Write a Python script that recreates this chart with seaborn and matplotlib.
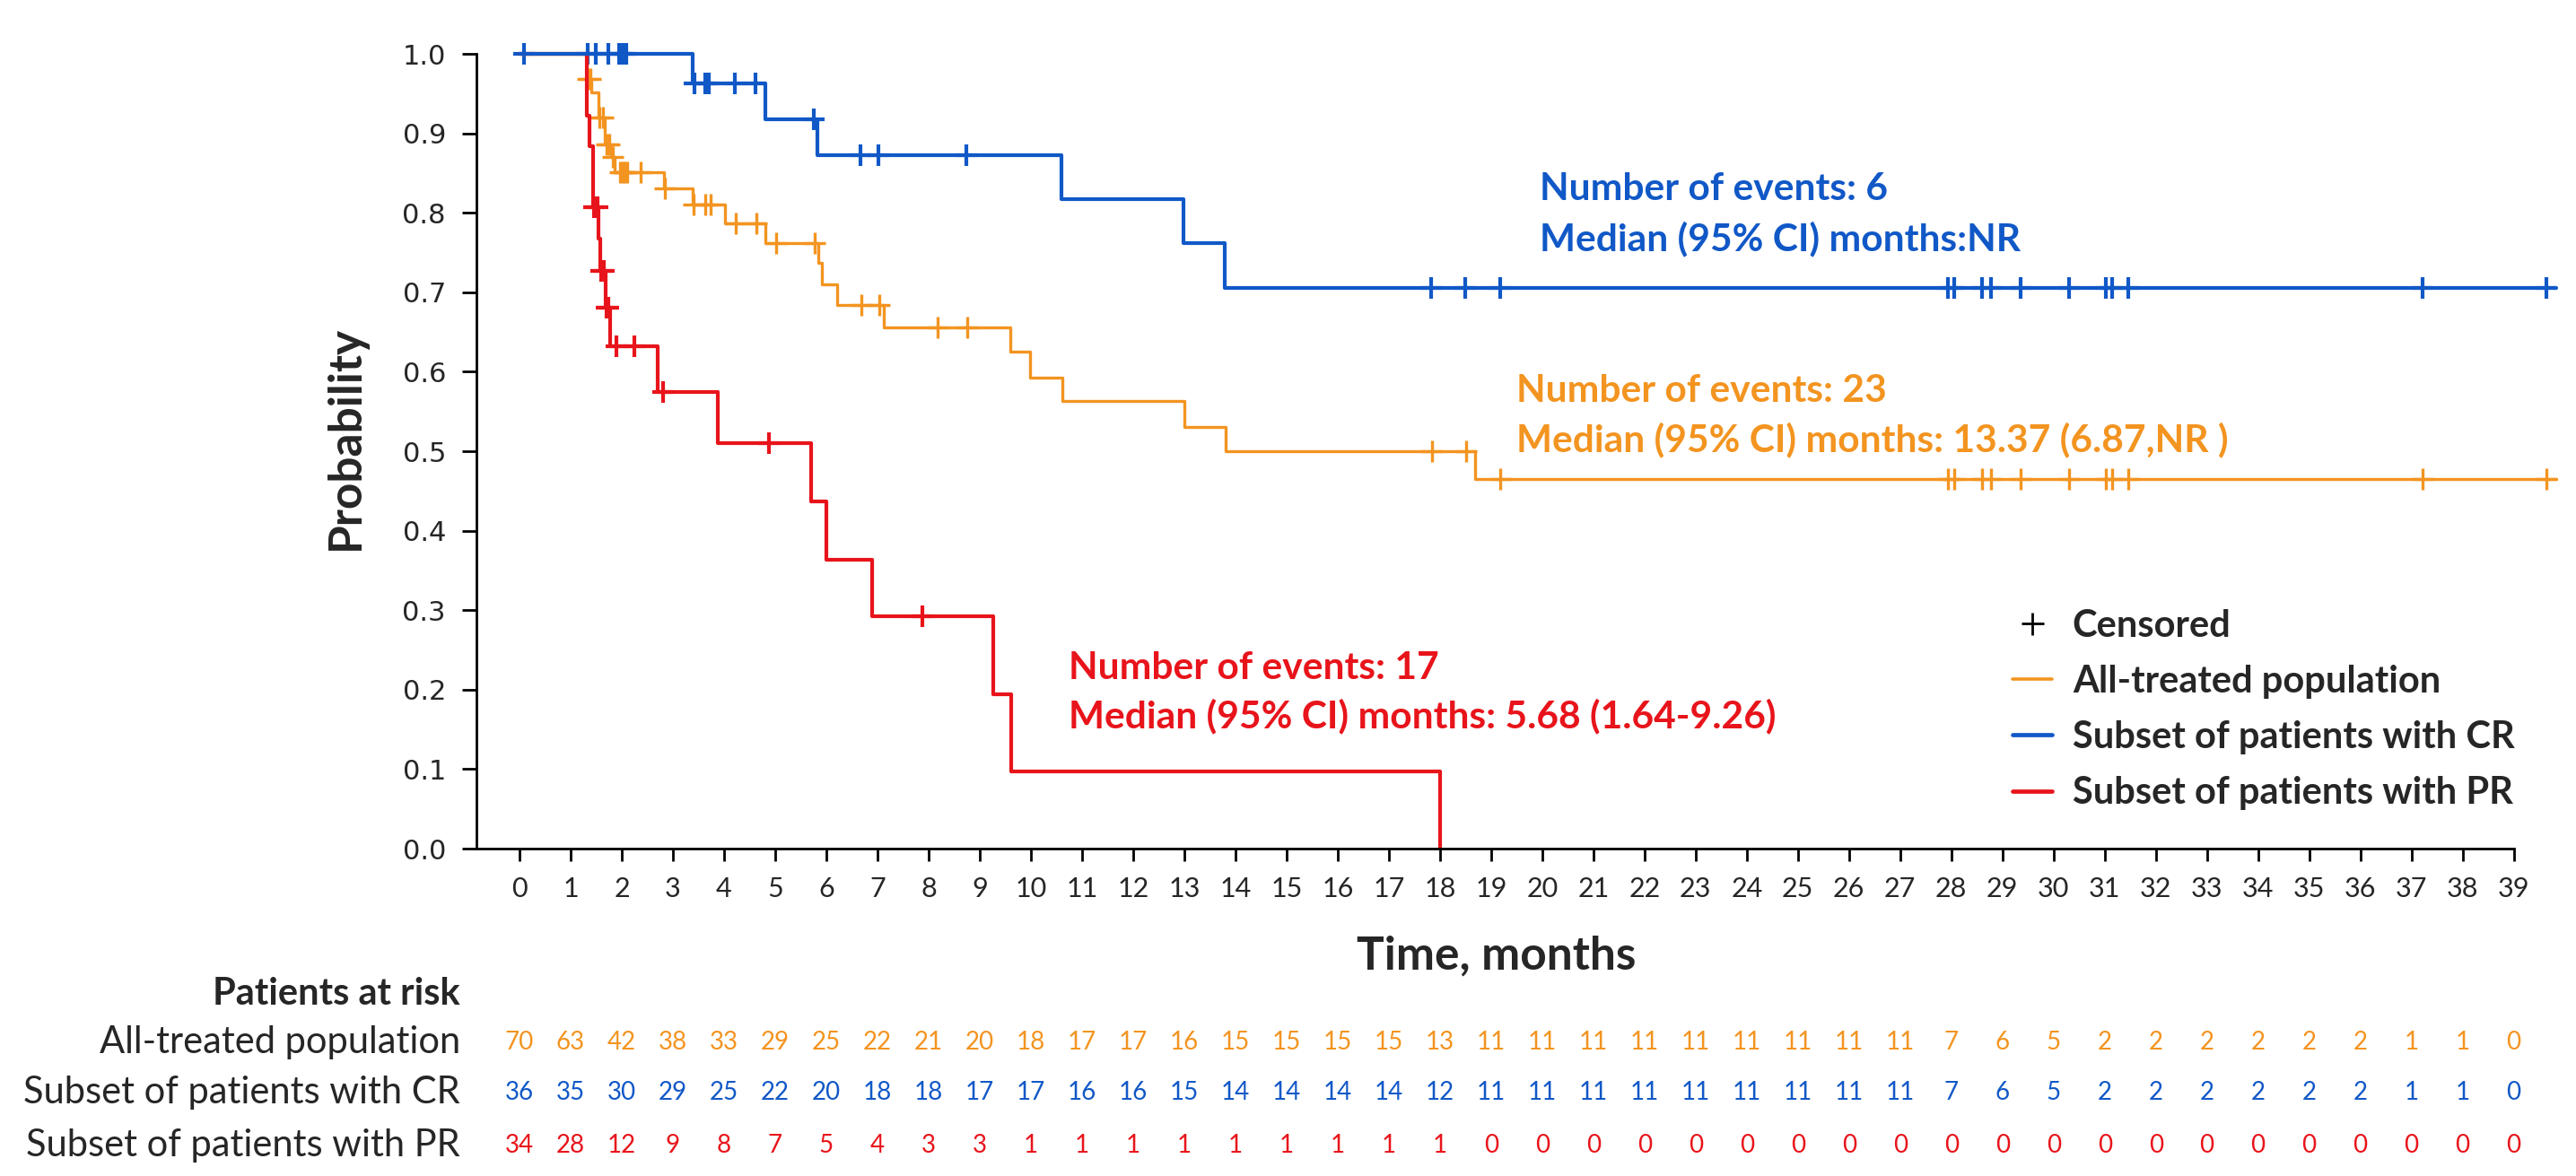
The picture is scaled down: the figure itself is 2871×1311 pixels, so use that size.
import numpy as np
import seaborn as sns
import matplotlib.pyplot as plt
from matplotlib.lines import Line2D
from matplotlib import transforms

# ---- data ----
months = list(range(0, 40))

groups = ["All-treated population", "Subset of patients with CR", "Subset of patients with PR"]

all_event_t = [1.32, 1.41, 1.54, 1.66, 1.79, 1.86, 2.82, 3.38, 4.02, 4.81, 5.84, 5.91,
               6.22, 7.12, 9.60, 9.98, 10.62, 13.01, 13.81, 18.68]
all_surv = [0.969, 0.952, 0.920, 0.886, 0.870, 0.851, 0.831, 0.810, 0.787, 0.762, 0.737, 0.710,
            0.684, 0.656, 0.625, 0.593, 0.563, 0.531, 0.500, 0.465]
all_censor = [1.34, 1.38, 1.57, 1.63, 1.70, 1.76, 1.83, 1.97, 2.01, 2.06, 2.11, 2.36, 2.85,
              3.41, 3.64, 3.73, 4.22, 4.63, 5.02, 5.78, 6.68, 7.03, 8.17, 8.75, 17.84, 18.51,
              19.18, 27.94, 28.06, 28.60, 28.77, 29.35, 30.31, 31.03, 31.14, 31.47, 37.22, 39.64]
all_end = 39.84

cr_event_t = [3.38, 4.81, 5.82, 10.60, 12.99, 13.80]
cr_surv = [0.963, 0.918, 0.872, 0.817, 0.762, 0.706]
cr_censor = [0.08, 1.33, 1.50, 1.73, 1.95, 2.02, 2.09, 3.42, 3.63, 3.71, 4.21, 4.61, 5.76,
             6.67, 7.01, 8.73, 17.82, 18.49, 19.17, 27.94, 28.06, 28.60, 28.77, 29.35, 30.31,
             31.03, 31.14, 31.47, 37.22, 39.64]
cr_end = 39.84

pr_event_t = [1.32, 1.36, 1.44, 1.55, 1.58, 1.68, 1.77, 2.71, 3.88, 5.70, 6.00, 6.89, 9.26,
              9.62, 18.0]
pr_surv = [0.922, 0.884, 0.807, 0.768, 0.727, 0.681, 0.632, 0.574, 0.510, 0.437, 0.364, 0.292,
           0.194, 0.097, 0.0]
pr_censor = [1.46, 1.52, 1.60, 1.65, 1.71, 1.74, 1.89, 2.24, 2.80, 4.87, 7.88]
pr_end = 18.0

risk_all = [70, 63, 42, 38, 33, 29, 25, 22, 21, 20, 18, 17, 17, 16, 15, 15, 15, 15, 13, 11,
            11, 11, 11, 11, 11, 11, 11, 11, 7, 6, 5, 2, 2, 2, 2, 2, 2, 1, 1, 0]
risk_cr = [36, 35, 30, 29, 25, 22, 20, 18, 18, 17, 17, 16, 16, 15, 14, 14, 14, 14, 12, 11,
           11, 11, 11, 11, 11, 11, 11, 11, 7, 6, 5, 2, 2, 2, 2, 2, 2, 1, 1, 0]
risk_pr = [34, 28, 12, 9, 8, 7, 5, 4, 3, 3, 1, 1, 1, 1, 1, 1, 1, 1, 1, 0,
           0, 0, 0, 0, 0, 0, 0, 0, 0, 0, 0, 0, 0, 0, 0, 0, 0, 0, 0, 0]

notes = {
    "all": ["Number of events: 23", "Median (95% CI) months: 13.37 (6.87,NR )"],
    "cr": ["Number of events: 6", "Median (95% CI) months:NR"],
    "pr": ["Number of events: 17", "Median (95% CI) months: 5.68 (1.64-9.26)"],
}

ORANGE = "#F39420"
BLUE = "#1158C7"
RED = "#E8141B"

sns.set_theme(style="white")
plt.rcParams["font.family"] = ["Lato", "DejaVu Sans"]

fig = plt.figure(figsize=(14.355, 6.555), dpi=200)
ax = fig.add_axes([0.1850, 0.2784, 0.8087, 0.6758])


def step_xy(ev_t, surv, end):
    xs = [0.0] + list(ev_t)
    ys = [1.0] + list(surv)
    if end > xs[-1]:
        xs.append(end)
        ys.append(ys[-1])
    return np.array(xs), np.array(ys)


def surv_at(ev_t, surv, t):
    idx = np.searchsorted(np.array(ev_t), t, side="right")
    vals = np.concatenate([[1.0], surv])
    return vals[idx]


curves = [
    (all_event_t, all_surv, all_censor, all_end, ORANGE, 1.2),
    (pr_event_t, pr_surv, pr_censor, pr_end, RED, 1.5),
    (cr_event_t, cr_surv, cr_censor, cr_end, BLUE, 1.5),
]
for ev_t, surv, cens, end, col, lw in curves:
    xs, ys = step_xy(ev_t, surv, end)
    sns.lineplot(x=xs, y=ys, ax=ax, color=col, lw=lw, drawstyle="steps-post", sort=False,
                 clip_on=False)
    cy = surv_at(ev_t, surv, np.array(cens))
    sns.scatterplot(x=cens, y=cy, ax=ax, marker="+", s=75, color=col, linewidth=lw,
                    clip_on=False)

ax.set_xlim(-0.84, 39.9)
ax.set_ylim(0, 1.0)
ax.set_xticks(months)
ax.set_xticklabels([str(m) for m in months], fontsize=11)
ax.set_yticks(np.arange(0, 1.01, 0.1))
ax.set_yticklabels([f"{v:.1f}" for v in np.arange(0, 1.01, 0.1)], fontsize=11,
                   family="DejaVu Sans")
ax.tick_params(axis="y", direction="out", length=5.8, width=1, pad=6.5, color="black",
               left=True)
ax.tick_params(axis="x", direction="out", length=5, width=1, pad=6, color="black",
               bottom=True)
for side in ["top", "right"]:
    ax.spines[side].set_visible(False)
for side in ["left", "bottom"]:
    ax.spines[side].set_color("black")
    ax.spines[side].set_linewidth(1.0)
ax.spines["bottom"].set_bounds(-0.84, 39)
ax.set_xlabel("")
ax.set_ylabel("")

fig.text(0.1344, 0.628, "Probability", rotation=90, ha="center", va="center",
         fontsize=18.5, fontweight="bold")
fig.text(0.581, 0.187, "Time, months", ha="center", va="center",
         fontsize=18.5, fontweight="bold")

# annotations
for key, col, x, y1, y2 in [("cr", BLUE, 0.5977, 0.839, 0.797),
                            ("all", ORANGE, 0.5886, 0.6674, 0.6262),
                            ("pr", RED, 0.4148, 0.4317, 0.3913)]:
    fig.text(x, y1, notes[key][0], color=col, fontsize=15.3, fontweight="bold", va="center")
    fig.text(x, y2, notes[key][1], color=col, fontsize=15.3, fontweight="bold", va="center")

# legend
handles = [Line2D([], [], color="black", marker="+", ls="", markersize=9, mew=1.0),
           Line2D([], [], color=ORANGE, lw=1.3),
           Line2D([], [], color=BLUE, lw=1.7),
           Line2D([], [], color=RED, lw=1.7)]
labels = ["Censored"] + groups
leg = fig.legend(handles, labels, loc="upper left", bbox_to_anchor=(0.7813, 0.4823),
                 frameon=False, borderpad=0, borderaxespad=0, handlelength=1.05,
                 handletextpad=0.55, labelspacing=0.58,
                 prop={"family": "Lato", "weight": "bold", "size": 15})

# risk table
trans = transforms.blended_transform_factory(ax.transData, fig.transFigure)
fig.text(0.1787, 0.1548, "Patients at risk", ha="right", va="center",
         fontsize=15, fontweight="bold")
for name, counts, col, y in [(groups[0], risk_all, ORANGE, 0.1137),
                             (groups[1], risk_cr, BLUE, 0.0709),
                             (groups[2], risk_pr, RED, 0.0259)]:
    fig.text(0.1787, y, name, ha="right", va="center", fontsize=15)
    for m, c in zip(months, counts):
        ax.text(m, y, str(c), transform=trans, ha="center", va="center",
                fontsize=10, color=col)

fig.savefig("out.png", dpi=200)
